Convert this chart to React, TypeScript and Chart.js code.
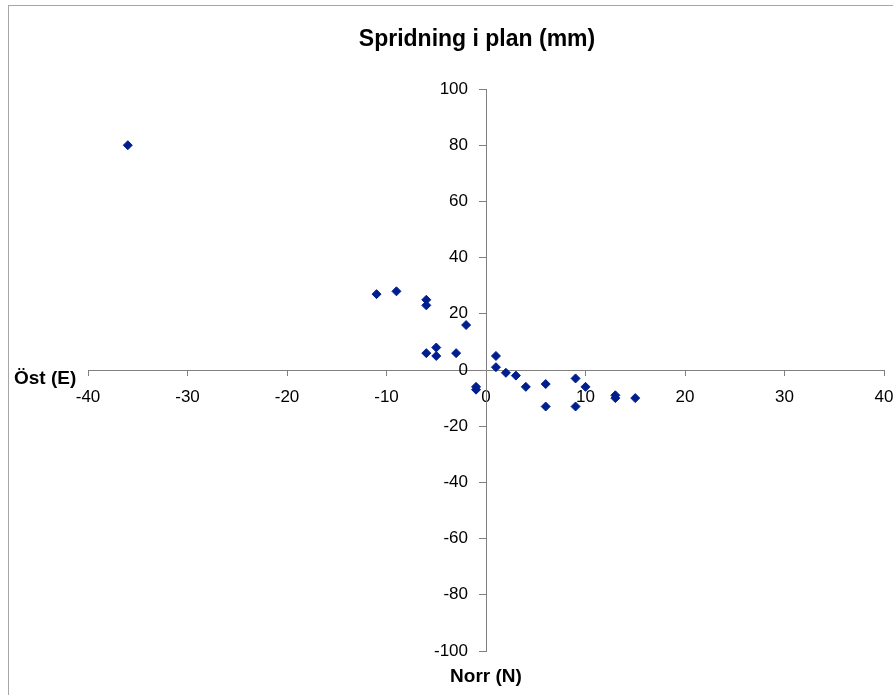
import React, { useEffect, useRef } from 'react';
import { Chart, registerables } from 'chart.js';

Chart.register(...registerables);

const chartTitle = 'Spridning i plan (mm)';
const xAxisTitle = 'Öst (E)';
const yAxisTitle = 'Norr (N)';

// Öst (E) values and Norr (N) values, in mm
const eastValues = [-36, -11, -9, -6, -6, -2, -6, -5, -5, -3, -1, -1, 1, 1, 2, 3, 4, 6, 6, 9, 10, 9, 13, 13, 15];
const northValues = [80, 27, 28, 25, 23, 16, 6, 8, 5, 6, -6, -7, 5, 1, -1, -2, -6, -5, -13, -3, -6, -13, -9, -10, -10];

const xTickValues = [-40, -30, -20, -10, 0, 10, 20, 30, 40];
const yTickValues = [-100, -80, -60, -40, -20, 0, 20, 40, 60, 80, 100];

const FONT = '"Liberation Sans", Arial, sans-serif';

export default function App() {
  const ref = useRef<HTMLCanvasElement>(null);

  useEffect(() => {
    document.body.style.margin = '0';
    const canvas = ref.current;
    if (!canvas) return;

    const extras = {
      id: 'extras',
      afterLayout(chart: any) {
        // place the vertical axis where x = 0
        const ys = chart.scales.y;
        const x0 = chart.scales.x.getPixelForValue(0);
        ys.right = x0;
        ys.left = x0 - 90;
        ys.width = 90;
      },
      afterDraw(chart: any) {
        const ctx = chart.ctx;
        ctx.save();
        ctx.strokeStyle = '#a6a6a6';
        ctx.lineWidth = 1;
        ctx.strokeRect(8.5, 5.5, 1000, 1000);
        ctx.fillStyle = '#000';
        ctx.textBaseline = 'middle';
        ctx.textAlign = 'center';
        ctx.font = `bold 23px ${FONT}`;
        ctx.fillText(chartTitle, 477, 40);
        ctx.font = `bold 19px ${FONT}`;
        ctx.textAlign = 'left';
        const y0 = chart.scales.y.getPixelForValue(0);
        ctx.fillText(xAxisTitle, 14, y0 + 9);
        const x0 = chart.scales.x.getPixelForValue(0);
        ctx.textAlign = 'center';
        ctx.fillText(yAxisTitle, x0, chart.chartArea.bottom + 26);
        ctx.restore();
      },
    };

    const chart = new Chart(canvas, {
      type: 'scatter',
      data: {
        datasets: [
          {
            label: 'Spridning',
            data: eastValues.map((x, i) => ({ x, y: northValues[i] })),
            pointStyle: 'rectRot',
            pointRadius: 4.5,
            pointHoverRadius: 4.5,
            backgroundColor: '#001f8f',
            borderColor: '#001f8f',
            borderWidth: 1,
          },
        ],
      },
      options: {
        animation: false,
        responsive: false,
        maintainAspectRatio: false,
        layout: { padding: { left: 88, right: 9, top: 89, bottom: 44 } },
        plugins: {
          legend: { display: false },
          tooltip: { enabled: false },
          title: { display: false },
        },
        scales: {
          x: {
            type: 'linear',
            position: { y: 0 } as any,
            min: -40,
            max: 40,
            afterBuildTicks: (s: any) => {
              s.ticks = xTickValues.map((v) => ({ value: v }));
            },
            afterFit: (s: any) => {
              s.height = 0;
              s.paddingLeft = 0;
              s.paddingRight = 0;
              s.paddingTop = 0;
              s.paddingBottom = 0;
            },
            grid: { drawOnChartArea: false, drawTicks: true, tickLength: 5, color: '#808080' },
            border: { color: '#808080', width: 1 },
            ticks: {
              color: '#000',
              font: { family: FONT, size: 17 },
              padding: 12,
              maxRotation: 0,
              autoSkip: false,
            },
          },
          y: {
            type: 'linear',
            position: 'left',
            min: -100,
            max: 100,
            afterBuildTicks: (s: any) => {
              s.ticks = yTickValues.map((v) => ({ value: v }));
            },
            afterFit: (s: any) => {
              s.width = 0;
              s.paddingLeft = 0;
              s.paddingRight = 0;
              s.paddingTop = 0;
              s.paddingBottom = 0;
            },
            grid: { drawOnChartArea: false, drawTicks: true, tickLength: 7, color: '#808080' },
            border: { color: '#808080', width: 1 },
            ticks: {
              color: '#000',
              font: { family: FONT, size: 17 },
              padding: 11,
              autoSkip: false,
            },
          },
        },
      },
      plugins: [extras],
    });

    return () => chart.destroy();
  }, []);

  return <canvas ref={ref} width={893} height={695} style={{ display: 'block' }} />;
}
